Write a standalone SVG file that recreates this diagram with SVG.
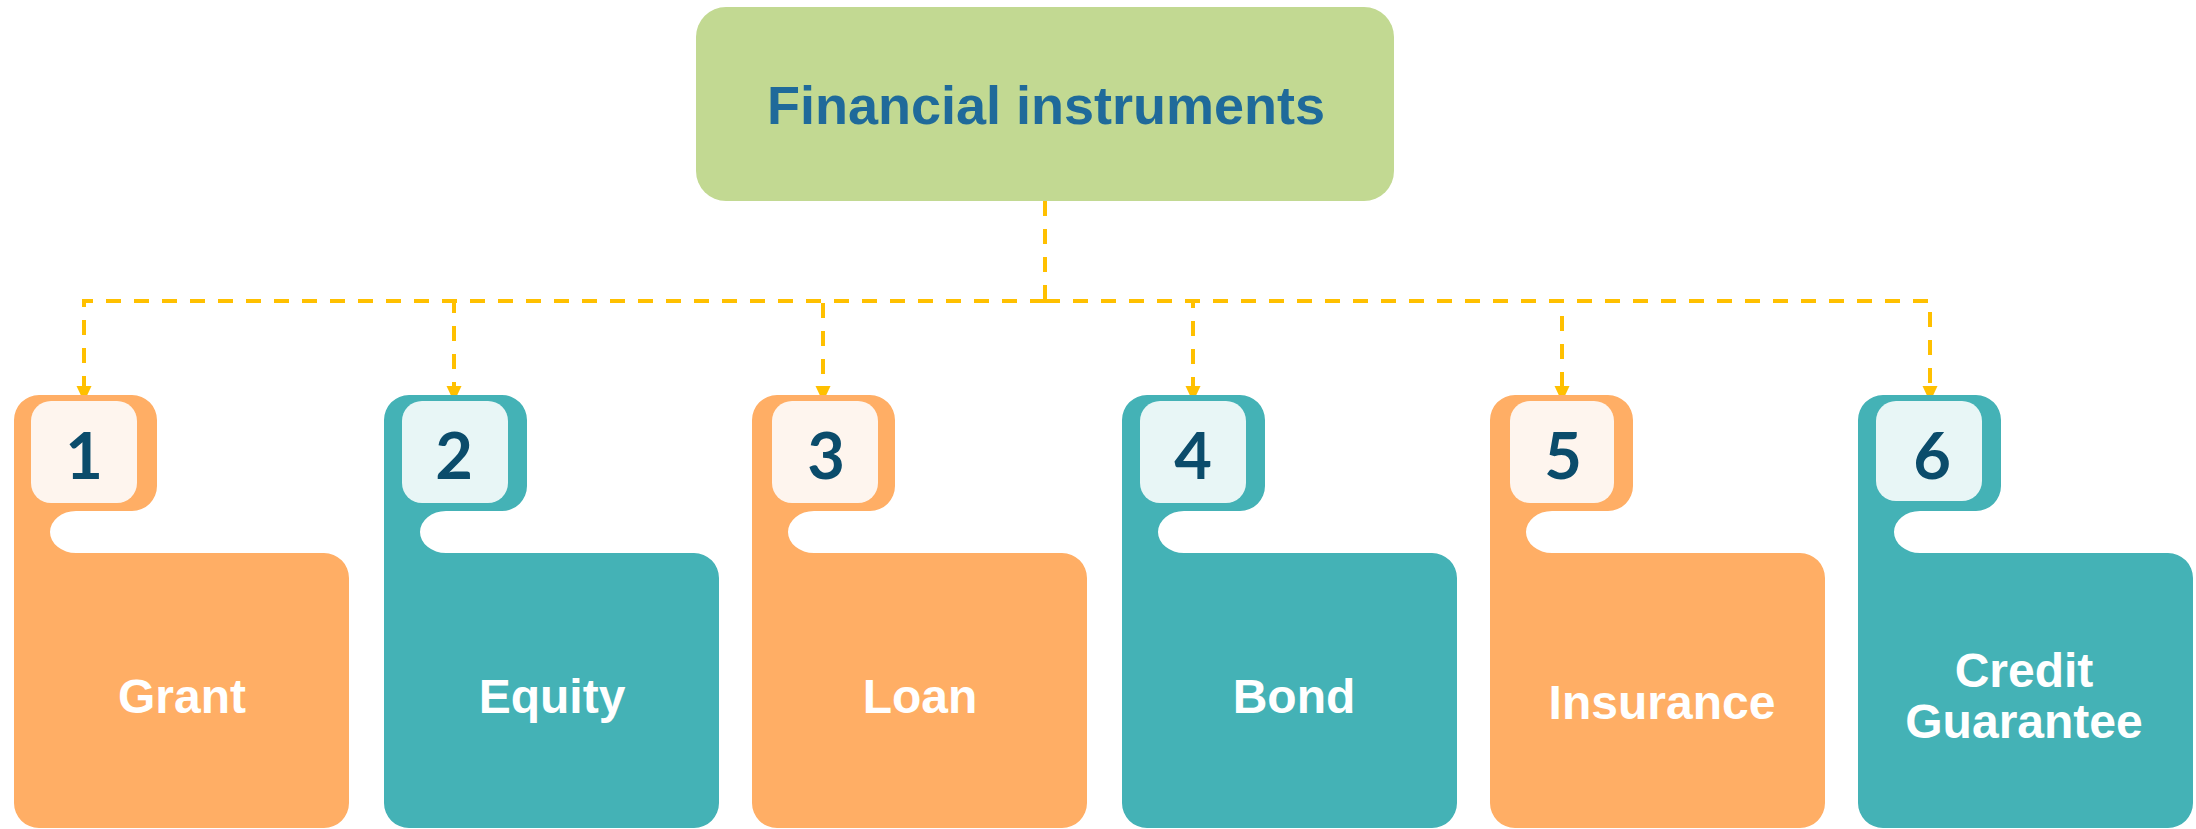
<svg xmlns="http://www.w3.org/2000/svg" xmlns:xlink="http://www.w3.org/1999/xlink" width="2196" height="829" viewBox="0 0 2196 829">
<style>
.orange{fill:#FFAE65}
.teal{fill:#44B2B6}
.in-o{fill:#FEF5EE}
.in-t{fill:#E8F6F6}
.num{font-family:Lato,"Liberation Sans",sans-serif;font-weight:700;font-size:65px;fill:#0B4C6B;text-anchor:middle}
.lbl{font-family:"Liberation Sans",Arial,sans-serif;font-weight:700;font-size:48px;fill:#FFFFFF;text-anchor:middle}
.title{font-family:"Liberation Sans",Arial,sans-serif;font-weight:700;font-size:54px;fill:#1F6A9A;text-anchor:middle}
.conn{fill:none;stroke:#FFC000;stroke-width:4;stroke-dasharray:15 13}
</style>
<defs>
<path id="card" d="M0,25 A25,25 0 0 1 25,0 H118 A25,25 0 0 1 143,25 V91 A25,25 0 0 1 118,116 H62 A26,21 0 0 0 62,158 H310 A25,25 0 0 1 335,183 V408 A25,25 0 0 1 310,433 H25 A25,25 0 0 1 0,408 Z"/>
<marker id="arr" markerUnits="userSpaceOnUse" markerWidth="16" markerHeight="16" viewBox="0 -8 16 16" refX="0" refY="0" orient="auto">
<path d="M0,-7.5 L16,0 L0,7.5 Z" fill="#FFC000"/>
</marker>
</defs>

<g id="connectors">
<path class="conn" d="M1045,201 V301"/>
<path class="conn" d="M1045,301 H84 V386" marker-end="url(#arr)"/>
<path class="conn" d="M1045,301 H454 V386" marker-end="url(#arr)"/>
<path class="conn" d="M1045,301 H823 V386" marker-end="url(#arr)"/>
<path class="conn" d="M1045,301 H1193 V386" marker-end="url(#arr)"/>
<path class="conn" d="M1045,301 H1562 V386" marker-end="url(#arr)"/>
<path class="conn" d="M1045,301 H1930 V386" marker-end="url(#arr)"/>
</g>

<g id="root">
<rect x="696" y="7" width="698" height="194" rx="30" ry="30" fill="#C2D992"/>
<text class="title" x="1046" y="124">Financial instruments</text>
</g>

<g id="grant" transform="translate(14,395)">
<use xlink:href="#card" class="orange"/>
<rect class="in-o" x="17" y="6" width="106" height="102" rx="20"/>
<text class="num" x="70" y="84">1</text>
<text class="lbl" x="168" y="318">Grant</text>
</g>

<g id="equity" transform="translate(384,395)">
<use xlink:href="#card" class="teal"/>
<rect class="in-t" x="18" y="6" width="106" height="102" rx="20"/>
<text class="num" x="70" y="84">2</text>
<text class="lbl" x="168" y="318">Equity</text>
</g>

<g id="loan" transform="translate(752,395)">
<use xlink:href="#card" class="orange"/>
<rect class="in-o" x="20" y="6" width="106" height="102" rx="20"/>
<text class="num" x="74" y="84">3</text>
<text class="lbl" x="168" y="318">Loan</text>
</g>

<g id="bond" transform="translate(1122,395)">
<use xlink:href="#card" class="teal"/>
<rect class="in-t" x="18" y="6" width="106" height="102" rx="20"/>
<text class="num" x="71" y="84">4</text>
<text class="lbl" x="172" y="318">Bond</text>
</g>

<g id="insurance" transform="translate(1490,395)">
<use xlink:href="#card" class="orange"/>
<rect class="in-o" x="20" y="6" width="104" height="102" rx="20"/>
<text class="num" x="73" y="84">5</text>
<text class="lbl" x="172" y="324">Insurance</text>
</g>

<g id="credit-guarantee" transform="translate(1858,395)">
<use xlink:href="#card" class="teal"/>
<rect class="in-t" x="18" y="6" width="106" height="100" rx="20"/>
<text class="num" x="74" y="84">6</text>
<text class="lbl" x="166" y="292">Credit</text>
<text class="lbl" x="166" y="343">Guarantee</text>
</g>
</svg>
